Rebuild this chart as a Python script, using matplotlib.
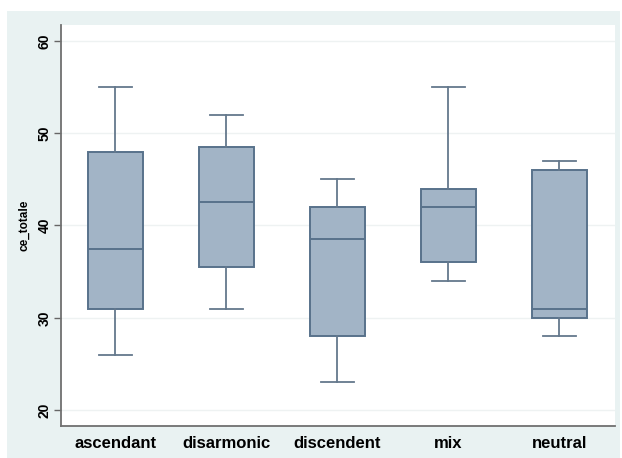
import matplotlib
matplotlib.use('Agg')
import matplotlib.pyplot as plt
from matplotlib.patches import Rectangle

plt.rcParams['font.family'] = ['Liberation Sans', 'DejaVu Sans']

# box plot summaries
groups = ["ascendant", "disarmonic", "discendent", "mix", "neutral"]
whisk_lo = [26, 31, 23, 34, 28]
q1 = [31, 35.5, 28, 36, 30]
median = [37.5, 42.5, 38.5, 42, 31]
q3 = [48, 48.5, 42, 44, 46]
whisk_hi = [55, 52, 45, 55, 47]
yticks = [20, 30, 40, 50, 60]

stats = []
for i in range(len(groups)):
    stats.append({'label': groups[i], 'whislo': whisk_lo[i], 'q1': q1[i],
                  'med': median[i], 'q3': q3[i], 'whishi': whisk_hi[i],
                  'fliers': []})

fig = plt.figure(figsize=(6.22, 4.58), dpi=100)
fig.patch.set_facecolor('white')
# stata-ish outer band
band = Rectangle((7 / 622, 0), 613 / 622, 1 - 11 / 458,
                 transform=fig.transFigure, facecolor='#e9f2f2',
                 edgecolor='none', zorder=-10)
fig.add_artist(band)

ax = fig.add_axes([61 / 622, 1 - 426 / 458, 554 / 622, 401 / 458])
ax.set_facecolor('white')

edge = '#58728b'
ax.bxp(stats, widths=0.5, patch_artist=True, showfliers=False,
       boxprops=dict(facecolor='#a2b4c6', edgecolor=edge, linewidth=1.4),
       medianprops=dict(color=edge, linewidth=1.4),
       whiskerprops=dict(color='#64788c', linewidth=1.3),
       capprops=dict(color='#64788c', linewidth=1.3),
       capwidths=0.3)

ax.set_xlim(0.51, 5.5)
ax.set_ylim(18.27, 61.73)
ax.set_yticks(yticks)
ax.set_yticklabels([str(v) for v in yticks], rotation=90, va='center',
                   fontsize=10, fontweight='bold')
ax.set_xticklabels(groups, fontsize=12, fontweight='bold')
ax.tick_params(axis='x', length=0, pad=7)
ax.tick_params(axis='y', length=5, color='#666666', width=1, pad=2)
ax.set_ylabel('ce_totale', fontsize=8.5, fontweight='bold')
ax.yaxis.set_label_coords(-31 / 554, 0.5)

ax.grid(axis='y', color='#eef2f2', linewidth=1)
ax.set_axisbelow(True)
for s in ['top', 'right']:
    ax.spines[s].set_visible(False)
for s in ['left', 'bottom']:
    ax.spines[s].set_color('#707070')
    ax.spines[s].set_linewidth(1.3)

fig.savefig('out.png', dpi=100)
